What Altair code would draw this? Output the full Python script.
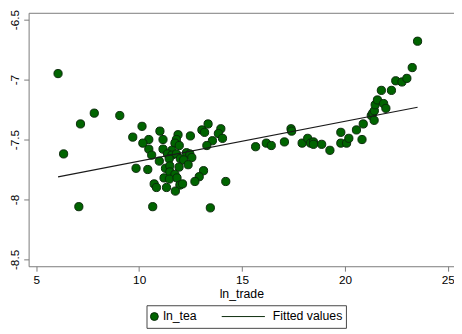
import altair as alt
import pandas as pd

# ---- data ----
ln_trade = [
    6.06, 6.33, 7.07, 7.15, 7.82, 9.06,
    10.14, 9.69, 11.01, 10.47, 10.18, 11.16, 11.89, 11.81, 11.74, 12.49, 11.95,
    13.05, 13.35, 13.18, 13.97, 13.85, 14.05, 13.56, 13.29, 10.47, 10.61, 11.16,
    11.59, 11.38, 11.59, 11.81, 12.30, 12.46, 12.00, 12.16, 12.56, 11.46, 10.98,
    12.38, 9.85, 10.42, 11.28, 11.49, 11.94, 11.21, 11.49, 11.74, 13.13, 12.92,
    12.71, 14.21, 11.47, 11.84, 10.73, 10.84, 11.33, 11.98, 12.11, 11.76, 10.66,
    13.46,
    15.66, 16.18, 16.42, 17.06, 17.38, 17.41, 17.92, 18.19, 18.33, 18.47, 18.47,
    18.87, 19.27, 19.80, 19.80, 20.08, 20.19, 20.56, 20.83, 20.89, 21.28, 21.35,
    21.43, 21.47, 21.42, 21.58, 21.77, 21.88, 21.99, 22.26, 22.47, 22.77, 23.01,
    23.27, 23.53,
]
ln_tea = [
    -6.95, -7.62, -8.06, -7.37, -7.28, -7.30,
    -7.39, -7.48, -7.43, -7.50, -7.53, -7.50, -7.46, -7.50, -7.53, -7.47, -7.55,
    -7.42, -7.37, -7.44, -7.41, -7.45, -7.49, -7.51, -7.55, -7.58, -7.63, -7.58,
    -7.59, -7.62, -7.63, -7.62, -7.61, -7.62, -7.66, -7.67, -7.65, -7.66, -7.68,
    -7.71, -7.74, -7.75, -7.74, -7.72, -7.73, -7.82, -7.77, -7.79, -7.76, -7.81,
    -7.85, -7.85, -7.83, -7.82, -7.87, -7.90, -7.90, -7.88, -7.87, -7.93, -8.06,
    -8.07,
    -7.56, -7.53, -7.55, -7.52, -7.41, -7.43, -7.53, -7.49, -7.53, -7.52, -7.54,
    -7.54, -7.59, -7.44, -7.53, -7.53, -7.49, -7.42, -7.50, -7.37, -7.30, -7.28,
    -7.26, -7.21, -7.34, -7.17, -7.09, -7.20, -7.24, -7.09, -7.01, -7.02, -6.99,
    -6.90, -6.68,
]
series_names = ["ln_tea", "Fitted values"]
x_ticks = [5, 10, 15, 20, 25]
y_ticks = [-8.5, -8, -7.5, -7, -6.5]

df = pd.DataFrame({"ln_trade": ln_trade, "ln_tea": ln_tea})
df["series"] = series_names[0]

FONT = "Liberation Sans"
GRAY = "#7a7a7a"

xscale = alt.Scale(domain=[4.63, 25.30], nice=False, zero=False)
yscale = alt.Scale(domain=[-8.557, -6.443], nice=False, zero=False)
color_scale = alt.Scale(domain=series_names, range=["#006400", "#1a1a1a"])

legend = alt.Legend(
    title=None,
    orient="none",
    legendX=120,
    legendY=297.7,
    direction="horizontal",
    strokeColor="#444444",
    fillColor="white",
    padding=3,
    columnPadding=24,
    clipHeight=17,
    labelFont=FONT,
    labelFontSize=12.5,
    labelColor="black",
    symbolType={"expr": "datum.value == 'ln_tea' ? 'circle' : 'stroke'"},
    symbolSize={"expr": "datum.value == 'ln_tea' ? 64 : 1936"},
    symbolOffset={"expr": "datum.value == 'ln_tea' ? -17.5 : 0"},
    symbolStrokeWidth=1,
    labelOffset={"expr": "datum.value == 'ln_tea' ? -13.5 : 7.5"},
)

yaxis = alt.Axis(orient="left", values=y_ticks, title=None, grid=False,
                 domainColor=GRAY, tickColor=GRAY, tickSize=5,
                 labelAngle=270, labelAlign="center",
                 labelBaseline="bottom", labelPadding=2,
                 labelExpr="'' + datum.value",
                 labelFont=FONT, labelFontSize=12, labelColor="black")

points = alt.Chart(df).mark_point(
    filled=True, size=70, stroke="#0a2a0a", strokeWidth=1, opacity=1
).encode(
    x=alt.X("ln_trade:Q", scale=xscale,
            axis=alt.Axis(orient="bottom", values=x_ticks, title="ln_trade",
                          grid=False, domainColor=GRAY, tickColor=GRAY,
                          tickSize=5, labelPadding=4, labelFont=FONT,
                          labelExpr="'' + datum.value",
                          labelFontSize=12, labelColor="black",
                          titleFont=FONT, titleFontSize=12.5,
                          titleFontWeight="normal", titleColor="black",
                          titlePadding=2)),
    y=alt.Y("ln_tea:Q", scale=yscale, axis=yaxis),
    fill=alt.Fill("series:N", scale=color_scale, legend=legend),
)

fit = alt.Chart(df).transform_regression(
    "ln_trade", "ln_tea"
).mark_line(color="#1a1a1a", strokeWidth=1.2).encode(
    x=alt.X("ln_trade:Q", scale=xscale,
            axis=alt.Axis(orient="top", labels=False, ticks=False, title=None,
                          grid=False, domainColor=GRAY)),
    y=alt.Y("ln_tea:Q", scale=yscale, axis=yaxis),
)

chart = alt.layer(points, fit).resolve_axis(x="independent").properties(
    width=433,
    height=258,
    autosize=alt.AutoSizeParams(type="none"),
    padding={"left": 21, "top": 2, "right": 0, "bottom": 62},
    background="white",
).configure_view(stroke=None)

chart.save("out.html", embed_options={"renderer": "svg", "actions": False})
